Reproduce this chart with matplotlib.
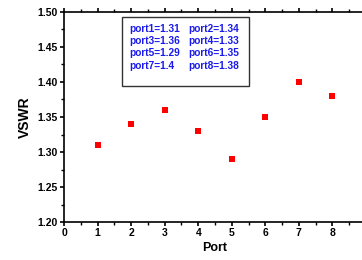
import numpy as np
import matplotlib.pyplot as plt
from matplotlib.patches import Rectangle
from matplotlib.ticker import MultipleLocator

plt.rcParams['font.family'] = ['Liberation Sans', 'DejaVu Sans']
plt.rcParams['font.weight'] = 'bold'

ports = [1, 2, 3, 4, 5, 6, 7, 8]
vswr = [1.31, 1.34, 1.36, 1.33, 1.29, 1.35, 1.40, 1.38]
labels = ["port1=1.31", "port2=1.34", "port3=1.36", "port4=1.33",
          "port5=1.29", "port6=1.35", "port7=1.4", "port8=1.38"]

fig = plt.figure(figsize=(3.62, 2.60), dpi=100)
ax = fig.add_axes([0.177, 0.146, 0.834, 0.808])

ax.plot(ports, vswr, 's', color='#ff0000', markersize=4.5, markeredgewidth=0)

ax.set_xlim(0, 9)
ax.set_ylim(1.20, 1.50)
ax.xaxis.set_major_locator(MultipleLocator(1))
ax.xaxis.set_minor_locator(MultipleLocator(0.5))
ax.yaxis.set_major_locator(MultipleLocator(0.05))
ax.yaxis.set_minor_locator(MultipleLocator(0.025))
ax.set_xticks(range(0, 9))
ax.yaxis.set_major_formatter(plt.FormatStrFormatter('%.2f'))
ax.tick_params(which='major', direction='out', length=3, width=1.2, labelsize=7.5, pad=1.5)
ax.tick_params(which='minor', direction='out', length=2, width=1)
ax.tick_params(top=True, which='both')
for lab in ax.get_xticklabels() + ax.get_yticklabels():
    lab.set_fontweight('bold')
for s in ax.spines.values():
    s.set_linewidth(1.2)

ax.set_xlabel('Port', fontsize=9, fontweight='bold', labelpad=3)
ax.set_ylabel('VSWR', fontsize=10, fontweight='bold', labelpad=4)

# legend-like box
ax.add_patch(Rectangle((0.192, 0.648), 0.421, 0.328, transform=ax.transAxes,
                       fill=False, edgecolor='#333333', linewidth=1.0))
rows_y = [0.918, 0.860, 0.803, 0.741]
for i, y in enumerate(rows_y):
    ax.text(0.216, y, labels[2 * i], transform=ax.transAxes, color='#1a1aee',
            fontsize=7.3, fontweight='bold', va='center')
    ax.text(0.411, y, labels[2 * i + 1], transform=ax.transAxes, color='#1a1aee',
            fontsize=7.3, fontweight='bold', va='center')

fig.savefig('out.png', dpi=100)
